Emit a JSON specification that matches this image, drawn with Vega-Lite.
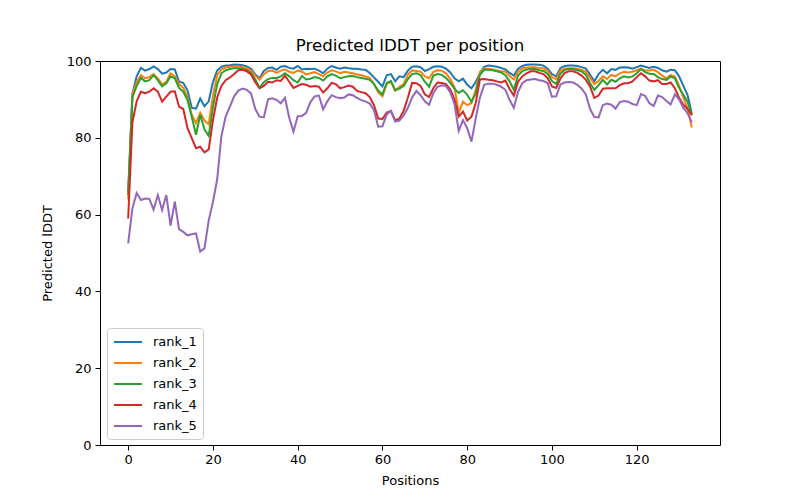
{
  "$schema": "https://vega.github.io/schema/vega-lite/v6.json",
  "width": 620,
  "height": 384,
  "autosize": "none",
  "padding": {"left": 100, "top": 61, "right": 80, "bottom": 55},
  "background": "white",
  "title": {"text": "Predicted lDDT per position", "font": "DejaVu Sans", "fontSize": 16.7, "fontWeight": "normal", "color": "black", "offset": 0},
  "config": {
    "view": {"stroke": "black", "strokeWidth": 1},
    "axis": {"domain": false, "grid": false, "tickColor": "black", "tickSize": 5, "labelFont": "DejaVu Sans", "labelFontSize": 13, "labelColor": "black", "titleFont": "DejaVu Sans", "titleFontSize": 13, "titleFontWeight": "normal", "titleColor": "black"},
    "legend": {"labelFont": "DejaVu Sans", "labelFontSize": 13, "labelColor": "black"}
  },
  "data": {"values": [
    {"p":0,"rank_1":66,"rank_2":64,"rank_3":65,"rank_4":59,"rank_5":52.5},
    {"p":1,"rank_1":91.5,"rank_2":91.5,"rank_3":90.5,"rank_4":84,"rank_5":61.6},
    {"p":2,"rank_1":96,"rank_2":94.5,"rank_3":93.5,"rank_4":89.5,"rank_5":65.6},
    {"p":3,"rank_1":98.2,"rank_2":96.3,"rank_3":95.6,"rank_4":92,"rank_5":63.8},
    {"p":4,"rank_1":97.5,"rank_2":95.5,"rank_3":94.7,"rank_4":91.6,"rank_5":64.2},
    {"p":5,"rank_1":97.9,"rank_2":95.8,"rank_3":95,"rank_4":92,"rank_5":64.1},
    {"p":6,"rank_1":98.6,"rank_2":96.6,"rank_3":96.3,"rank_4":92.9,"rank_5":61.3},
    {"p":7,"rank_1":97.9,"rank_2":95.5,"rank_3":95,"rank_4":92,"rank_5":65.1},
    {"p":8,"rank_1":96.7,"rank_2":93.9,"rank_3":93.4,"rank_4":89.4,"rank_5":61.2},
    {"p":9,"rank_1":97,"rank_2":94.6,"rank_3":94.2,"rank_4":90.7,"rank_5":65.1},
    {"p":10,"rank_1":97.9,"rank_2":96.8,"rank_3":96,"rank_4":92,"rank_5":57.1},
    {"p":11,"rank_1":97.8,"rank_2":96,"rank_3":95.5,"rank_4":92.1,"rank_5":63.4},
    {"p":12,"rank_1":94.6,"rank_2":94,"rank_3":93,"rank_4":88.1,"rank_5":56.2},
    {"p":13,"rank_1":94.3,"rank_2":93,"rank_3":92,"rank_4":87.5,"rank_5":55.5},
    {"p":14,"rank_1":92.3,"rank_2":90.5,"rank_3":89.8,"rank_4":82.5,"rank_5":54.6},
    {"p":15,"rank_1":87.8,"rank_2":86,"rank_3":85.5,"rank_4":79.9,"rank_5":54.9},
    {"p":16,"rank_1":87.6,"rank_2":83.8,"rank_3":80.8,"rank_4":77.3,"rank_5":55.1},
    {"p":17,"rank_1":90.2,"rank_2":86.5,"rank_3":86,"rank_4":77.7,"rank_5":50.4},
    {"p":18,"rank_1":88.2,"rank_2":84.5,"rank_3":82.2,"rank_4":76.2,"rank_5":51.2},
    {"p":19,"rank_1":89.5,"rank_2":83.5,"rank_3":80.5,"rank_4":77,"rank_5":58.5},
    {"p":20,"rank_1":94.5,"rank_2":91,"rank_3":88,"rank_4":84.5,"rank_5":63.3},
    {"p":21,"rank_1":97.5,"rank_2":96.3,"rank_3":94,"rank_4":90.5,"rank_5":69.2},
    {"p":22,"rank_1":98.5,"rank_2":97.8,"rank_3":96.8,"rank_4":93.5,"rank_5":80.5},
    {"p":23,"rank_1":98.8,"rank_2":98.3,"rank_3":97.6,"rank_4":95,"rank_5":85.5},
    {"p":24,"rank_1":98.9,"rank_2":98.5,"rank_3":97.9,"rank_4":95.7,"rank_5":88.1},
    {"p":25,"rank_1":99.1,"rank_2":98.6,"rank_3":98.1,"rank_4":96.6,"rank_5":90.8},
    {"p":26,"rank_1":99,"rank_2":98.6,"rank_3":98.1,"rank_4":97.6,"rank_5":92.3},
    {"p":27,"rank_1":98.9,"rank_2":98.4,"rank_3":97.9,"rank_4":97.7,"rank_5":92.8},
    {"p":28,"rank_1":98.6,"rank_2":98.1,"rank_3":97.6,"rank_4":97.3,"rank_5":92.5},
    {"p":29,"rank_1":98,"rank_2":97.5,"rank_3":96.9,"rank_4":96.5,"rank_5":91.5},
    {"p":30,"rank_1":96.5,"rank_2":96.2,"rank_3":95.2,"rank_4":94.5,"rank_5":87.5},
    {"p":31,"rank_1":95.5,"rank_2":95.1,"rank_3":93,"rank_4":92.9,"rank_5":85.5},
    {"p":32,"rank_1":97.4,"rank_2":96.5,"rank_3":94.5,"rank_4":93.5,"rank_5":85.3},
    {"p":33,"rank_1":98.2,"rank_2":97.4,"rank_3":95.3,"rank_4":94.6,"rank_5":90},
    {"p":34,"rank_1":98.3,"rank_2":97.5,"rank_3":95.6,"rank_4":94.4,"rank_5":90.3},
    {"p":35,"rank_1":97.7,"rank_2":96.9,"rank_3":95.6,"rank_4":95,"rank_5":89.9},
    {"p":36,"rank_1":98.5,"rank_2":97.5,"rank_3":96,"rank_4":94.8,"rank_5":89},
    {"p":37,"rank_1":98.7,"rank_2":97.8,"rank_3":96.8,"rank_4":96.2,"rank_5":90.4},
    {"p":38,"rank_1":98.2,"rank_2":97.2,"rank_3":96,"rank_4":94.6,"rank_5":85.2},
    {"p":39,"rank_1":98,"rank_2":96.9,"rank_3":95,"rank_4":93,"rank_5":81.6},
    {"p":40,"rank_1":98.7,"rank_2":97.5,"rank_3":94.4,"rank_4":93.5,"rank_5":85.6},
    {"p":41,"rank_1":97.8,"rank_2":97.2,"rank_3":96.1,"rank_4":94,"rank_5":85.7},
    {"p":42,"rank_1":98,"rank_2":96.5,"rank_3":95.2,"rank_4":93.8,"rank_5":86.5},
    {"p":43,"rank_1":97.9,"rank_2":96.8,"rank_3":95.4,"rank_4":93.3,"rank_5":89.3},
    {"p":44,"rank_1":98,"rank_2":97.1,"rank_3":95.8,"rank_4":93.5,"rank_5":90.8},
    {"p":45,"rank_1":97.5,"rank_2":96.6,"rank_3":95.6,"rank_4":93.3,"rank_5":91},
    {"p":46,"rank_1":96.8,"rank_2":96,"rank_3":94.9,"rank_4":91.8,"rank_5":87.4},
    {"p":47,"rank_1":98,"rank_2":97,"rank_3":96,"rank_4":92.9,"rank_5":89.5},
    {"p":48,"rank_1":98.7,"rank_2":97.6,"rank_3":96.6,"rank_4":94.3,"rank_5":91.1},
    {"p":49,"rank_1":98.3,"rank_2":97.3,"rank_3":96.2,"rank_4":94,"rank_5":90.6},
    {"p":50,"rank_1":98,"rank_2":96.8,"rank_3":95.5,"rank_4":92.9,"rank_5":90.3},
    {"p":51,"rank_1":98.3,"rank_2":97.2,"rank_3":95.8,"rank_4":93.2,"rank_5":90.5},
    {"p":52,"rank_1":98.1,"rank_2":97,"rank_3":96,"rank_4":93.6,"rank_5":91.3},
    {"p":53,"rank_1":98,"rank_2":96.8,"rank_3":96.1,"rank_4":93.3,"rank_5":91.1},
    {"p":54,"rank_1":98,"rank_2":96.5,"rank_3":95.8,"rank_4":92.2,"rank_5":90.4},
    {"p":55,"rank_1":97.8,"rank_2":96.3,"rank_3":95.6,"rank_4":91.9,"rank_5":89.8},
    {"p":56,"rank_1":97.7,"rank_2":96,"rank_3":95.4,"rank_4":91.6,"rank_5":89.5},
    {"p":57,"rank_1":96.9,"rank_2":95.6,"rank_3":95.1,"rank_4":90.6,"rank_5":88.9},
    {"p":58,"rank_1":95.7,"rank_2":94,"rank_3":94,"rank_4":88.5,"rank_5":87.2},
    {"p":59,"rank_1":94.6,"rank_2":91.8,"rank_3":92.3,"rank_4":85,"rank_5":82.9},
    {"p":60,"rank_1":93.4,"rank_2":90.8,"rank_3":91.3,"rank_4":84.9,"rank_5":83},
    {"p":61,"rank_1":96.3,"rank_2":94,"rank_3":94.3,"rank_4":86.6,"rank_5":86.1},
    {"p":62,"rank_1":96.6,"rank_2":94.6,"rank_3":94.8,"rank_4":87,"rank_5":87},
    {"p":63,"rank_1":94.7,"rank_2":92.3,"rank_3":92.4,"rank_4":84.6,"rank_5":84.2},
    {"p":64,"rank_1":96,"rank_2":93.3,"rank_3":92.8,"rank_4":85,"rank_5":84.5},
    {"p":65,"rank_1":95.8,"rank_2":94,"rank_3":93.5,"rank_4":87,"rank_5":85.8},
    {"p":66,"rank_1":97.5,"rank_2":96.4,"rank_3":95.3,"rank_4":90.5,"rank_5":87.8},
    {"p":67,"rank_1":98.5,"rank_2":97.6,"rank_3":96.6,"rank_4":94.3,"rank_5":90.5},
    {"p":68,"rank_1":98.6,"rank_2":97.4,"rank_3":96.8,"rank_4":94.2,"rank_5":92.2},
    {"p":69,"rank_1":98.4,"rank_2":97.2,"rank_3":96.3,"rank_4":93.5,"rank_5":91.1},
    {"p":70,"rank_1":97.4,"rank_2":96,"rank_3":94.6,"rank_4":91.3,"rank_5":89.5},
    {"p":71,"rank_1":97.9,"rank_2":95.5,"rank_3":93.3,"rank_4":90.6,"rank_5":88.6},
    {"p":72,"rank_1":98.5,"rank_2":97.1,"rank_3":96.2,"rank_4":92.9,"rank_5":91.6},
    {"p":73,"rank_1":98.6,"rank_2":97.6,"rank_3":96.6,"rank_4":94.4,"rank_5":93.3},
    {"p":74,"rank_1":98.5,"rank_2":97.5,"rank_3":96.4,"rank_4":94.3,"rank_5":93.7},
    {"p":75,"rank_1":98,"rank_2":96.8,"rank_3":95.6,"rank_4":94,"rank_5":93.5},
    {"p":76,"rank_1":97,"rank_2":95.3,"rank_3":94.3,"rank_4":92.6,"rank_5":91.8},
    {"p":77,"rank_1":95.5,"rank_2":93.2,"rank_3":92.8,"rank_4":90,"rank_5":88.8},
    {"p":78,"rank_1":94.7,"rank_2":86.5,"rank_3":91.7,"rank_4":85.5,"rank_5":81.8},
    {"p":79,"rank_1":95.4,"rank_2":89.4,"rank_3":92.4,"rank_4":86.8,"rank_5":84.6},
    {"p":80,"rank_1":93.8,"rank_2":88.5,"rank_3":91.2,"rank_4":84.5,"rank_5":82.5},
    {"p":81,"rank_1":92.9,"rank_2":89,"rank_3":89.4,"rank_4":85.5,"rank_5":79},
    {"p":82,"rank_1":94.5,"rank_2":92.5,"rank_3":91.5,"rank_4":89,"rank_5":85},
    {"p":83,"rank_1":96.8,"rank_2":97.2,"rank_3":96.4,"rank_4":95.2,"rank_5":90.5},
    {"p":84,"rank_1":98.5,"rank_2":98,"rank_3":97.7,"rank_4":95.3,"rank_5":93.8},
    {"p":85,"rank_1":98.8,"rank_2":98,"rank_3":97.7,"rank_4":95.1,"rank_5":94.1},
    {"p":86,"rank_1":98.7,"rank_2":97.8,"rank_3":97.6,"rank_4":95,"rank_5":94.1},
    {"p":87,"rank_1":98.5,"rank_2":97.6,"rank_3":97.3,"rank_4":94.7,"rank_5":93.8},
    {"p":88,"rank_1":98.2,"rank_2":97.3,"rank_3":97,"rank_4":94.4,"rank_5":93.3},
    {"p":89,"rank_1":97.8,"rank_2":97.2,"rank_3":96.3,"rank_4":94.9,"rank_5":92.5},
    {"p":90,"rank_1":96.9,"rank_2":96.1,"rank_3":94.7,"rank_4":92.7,"rank_5":89.9},
    {"p":91,"rank_1":96.2,"rank_2":95.2,"rank_3":92.5,"rank_4":91,"rank_5":87.8},
    {"p":92,"rank_1":98,"rank_2":97.2,"rank_3":96.2,"rank_4":94.6,"rank_5":92},
    {"p":93,"rank_1":98.7,"rank_2":98.1,"rank_3":97.4,"rank_4":96,"rank_5":94.2},
    {"p":94,"rank_1":99,"rank_2":98.3,"rank_3":97.8,"rank_4":96.8,"rank_5":95},
    {"p":95,"rank_1":99.1,"rank_2":98.4,"rank_3":97.9,"rank_4":97.3,"rank_5":95.2},
    {"p":96,"rank_1":99.1,"rank_2":98.4,"rank_3":97.9,"rank_4":97.3,"rank_5":95.3},
    {"p":97,"rank_1":99,"rank_2":98.2,"rank_3":97.6,"rank_4":96.9,"rank_5":95},
    {"p":98,"rank_1":98.8,"rank_2":98.1,"rank_3":97.4,"rank_4":96.6,"rank_5":94.8},
    {"p":99,"rank_1":98,"rank_2":97.4,"rank_3":96.6,"rank_4":95.5,"rank_5":94.2},
    {"p":100,"rank_1":96.6,"rank_2":95.8,"rank_3":94.8,"rank_4":93.4,"rank_5":90.7},
    {"p":101,"rank_1":96,"rank_2":95.3,"rank_3":94,"rank_4":93,"rank_5":90.8},
    {"p":102,"rank_1":98.2,"rank_2":97.5,"rank_3":96.7,"rank_4":95.4,"rank_5":93.9},
    {"p":103,"rank_1":98.7,"rank_2":98,"rank_3":97.7,"rank_4":96.9,"rank_5":94.4},
    {"p":104,"rank_1":98.8,"rank_2":98.1,"rank_3":97.9,"rank_4":97.3,"rank_5":94.5},
    {"p":105,"rank_1":98.8,"rank_2":98.1,"rank_3":97.9,"rank_4":97.3,"rank_5":94.4},
    {"p":106,"rank_1":98.7,"rank_2":98,"rank_3":97.6,"rank_4":96.9,"rank_5":93.8},
    {"p":107,"rank_1":98.4,"rank_2":97.7,"rank_3":97.3,"rank_4":96.2,"rank_5":92.8},
    {"p":108,"rank_1":98,"rank_2":97.2,"rank_3":96.4,"rank_4":95.1,"rank_5":91.3},
    {"p":109,"rank_1":96.4,"rank_2":95.6,"rank_3":94.2,"rank_4":93.3,"rank_5":87.5},
    {"p":110,"rank_1":94.7,"rank_2":94,"rank_3":92.5,"rank_4":90.4,"rank_5":85.4},
    {"p":111,"rank_1":96.6,"rank_2":94.8,"rank_3":93.7,"rank_4":91,"rank_5":85.3},
    {"p":112,"rank_1":97.7,"rank_2":96,"rank_3":95.1,"rank_4":92.8,"rank_5":88.5},
    {"p":113,"rank_1":96.8,"rank_2":95.3,"rank_3":93.9,"rank_4":92.9,"rank_5":88.9},
    {"p":114,"rank_1":97.9,"rank_2":96.4,"rank_3":95.1,"rank_4":92.9,"rank_5":88.6},
    {"p":115,"rank_1":97.7,"rank_2":96,"rank_3":94.6,"rank_4":92.9,"rank_5":87.6},
    {"p":116,"rank_1":98.3,"rank_2":96.8,"rank_3":95.5,"rank_4":93.7,"rank_5":89.3},
    {"p":117,"rank_1":98.4,"rank_2":97.2,"rank_3":96,"rank_4":94.2,"rank_5":89.6},
    {"p":118,"rank_1":98.3,"rank_2":97,"rank_3":95.7,"rank_4":94.2,"rank_5":89.4},
    {"p":119,"rank_1":98,"rank_2":97.2,"rank_3":96,"rank_4":94.7,"rank_5":88.8},
    {"p":120,"rank_1":98.4,"rank_2":97.6,"rank_3":96.8,"rank_4":95.8,"rank_5":88.5},
    {"p":121,"rank_1":98.8,"rank_2":98,"rank_3":97.9,"rank_4":96.8,"rank_5":91.4},
    {"p":122,"rank_1":98.5,"rank_2":97.5,"rank_3":97.1,"rank_4":96,"rank_5":90.9},
    {"p":123,"rank_1":98.2,"rank_2":97.5,"rank_3":96.7,"rank_4":94.9,"rank_5":89},
    {"p":124,"rank_1":98.5,"rank_2":97.7,"rank_3":96.6,"rank_4":94.7,"rank_5":88.3},
    {"p":125,"rank_1":98.2,"rank_2":97.1,"rank_3":95.8,"rank_4":95,"rank_5":91},
    {"p":126,"rank_1":97.6,"rank_2":96.2,"rank_3":95.3,"rank_4":94,"rank_5":90.6},
    {"p":127,"rank_1":97.2,"rank_2":95.5,"rank_3":95.1,"rank_4":94,"rank_5":89.6},
    {"p":128,"rank_1":97.7,"rank_2":96.3,"rank_3":96,"rank_4":94.4,"rank_5":88.7},
    {"p":129,"rank_1":97.6,"rank_2":96,"rank_3":95.5,"rank_4":92.9,"rank_5":91.3},
    {"p":130,"rank_1":96,"rank_2":93.5,"rank_3":93,"rank_4":90.4,"rank_5":90},
    {"p":131,"rank_1":93.5,"rank_2":90.5,"rank_3":91.2,"rank_4":88.6,"rank_5":87.8},
    {"p":132,"rank_1":91.1,"rank_2":87.7,"rank_3":89.4,"rank_4":87.5,"rank_5":86.4},
    {"p":133,"rank_1":86.3,"rank_2":82.7,"rank_3":85.9,"rank_4":85.9,"rank_5":84}
  ]},
  "transform": [{"fold": ["rank_1", "rank_2", "rank_3", "rank_4", "rank_5"], "as": ["model", "lddt"]}],
  "mark": {"type": "line", "strokeWidth": 2, "clip": true},
  "encoding": {
    "x": {"field": "p", "type": "quantitative", "title": "Positions",
          "scale": {"domain": [-6.65, 139.65], "nice": false, "zero": false},
          "axis": {"values": [0, 20, 40, 60, 80, 100, 120], "labelPadding": 3, "titlePadding": 8}},
    "y": {"field": "lddt", "type": "quantitative", "title": "Predicted lDDT",
          "scale": {"domain": [0, 100], "nice": false},
          "axis": {"values": [0, 20, 40, 60, 80, 100], "labelPadding": 4, "titlePadding": 12}},
    "color": {"field": "model", "type": "nominal",
              "scale": {"domain": ["rank_1", "rank_2", "rank_3", "rank_4", "rank_5"], "range": ["#1f77b4", "#ff7f0e", "#2ca02c", "#d62728", "#9467bd"]},
              "legend": {"title": null, "orient": "none", "legendX": 7, "legendY": 267, "symbolType": "M-1,0H3", "symbolStrokeWidth": 2, "symbolSize": 196, "rowPadding": 6, "labelOffset": 24, "padding": 6, "fillColor": "white", "strokeColor": "#cccccc", "cornerRadius": 3}},
    "order": {"field": "p", "type": "quantitative"}
  }
}
